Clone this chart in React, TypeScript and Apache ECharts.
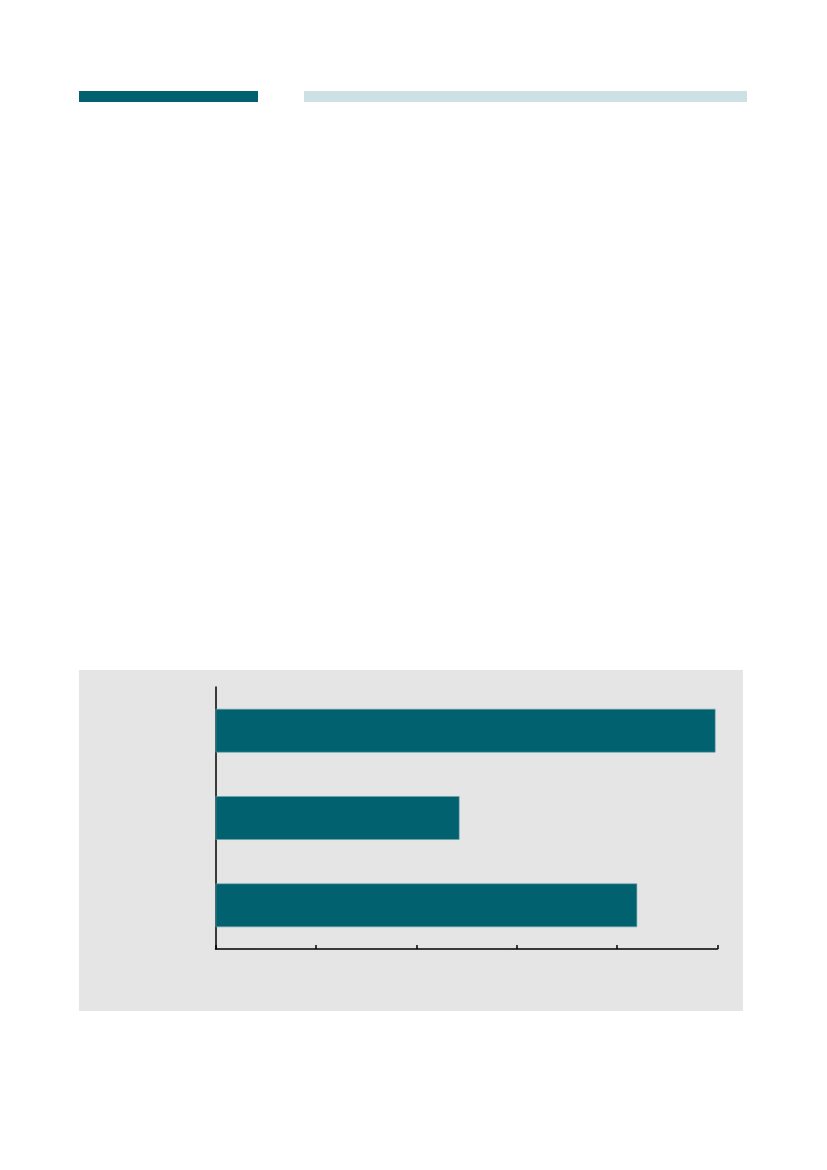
import { useRef, useEffect } from 'react'
import * as echarts from 'echarts'

// values, scale 0..5
const categories = ['Item 1', 'Item 2', 'Item 3']
const values = [4.98, 2.43, 4.2]
const xTicks = [0, 1, 2, 3, 4, 5]

const TEAL = '#02616f'
const TEAL_LIGHT = '#cde0e4'
const PANEL = '#e5e5e5'

export default function App() {
  const chartRef = useRef<HTMLDivElement>(null)

  useEffect(() => {
    if (!chartRef.current) return
    const chart = echarts.init(chartRef.current, undefined, { renderer: 'svg' })

    chart.setOption({
      animation: false,
      backgroundColor: '#ffffff',
      graphic: [
        { type: 'rect', shape: { x: 79, y: 91, width: 179, height: 11 }, style: { fill: TEAL }, z: 0 },
        { type: 'rect', shape: { x: 304, y: 91, width: 443, height: 11 }, style: { fill: TEAL_LIGHT }, z: 0 },
        { type: 'rect', shape: { x: 79, y: 670, width: 664, height: 341 }, style: { fill: PANEL }, z: -10 },
      ],
      grid: { left: 215.5, right: 109.5, top: 687, bottom: 221, containLabel: false },
      xAxis: {
        type: 'value',
        min: xTicks[0],
        max: xTicks[xTicks.length - 1],
        interval: 1,
        axisLine: { show: true, lineStyle: { color: '#000', width: 1.5 } },
        axisTick: { show: true, inside: true, length: 4, lineStyle: { color: '#000', width: 1.5 } },
        axisLabel: { show: false },
        splitLine: { show: false },
      },
      yAxis: {
        type: 'category',
        data: categories,
        inverse: true,
        axisLine: { show: true, onZero: false, lineStyle: { color: '#000', width: 1.5 } },
        axisTick: { show: false },
        axisLabel: { show: false },
        splitLine: { show: false },
      },
      series: [
        {
          type: 'bar',
          data: values,
          barWidth: '50%',
          itemStyle: { color: TEAL, borderColor: '#6fa3ab', borderWidth: 0.6 },
          z: 1,
        },
      ],
    })

    return () => chart.dispose()
  }, [])

  return (
    <div
      ref={chartRef}
      style={{ position: 'absolute', left: 0, top: 0, width: 827, height: 1170 }}
    />
  )
}
